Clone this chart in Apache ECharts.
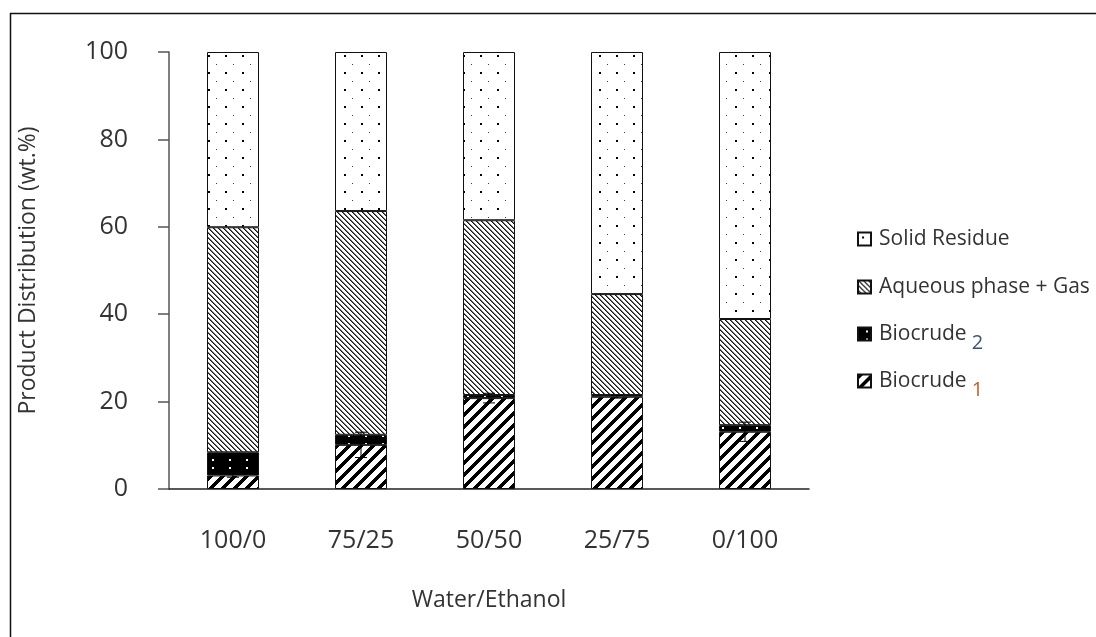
<!DOCTYPE html>
<html>
<head>
<meta charset="utf-8">
<script src="https://cdn.jsdelivr.net/npm/echarts@6/dist/echarts.min.js"></script>
<style>
html,body{margin:0;padding:0;background:#fff;}
#chart{width:1096px;height:637px;}
</style>
</head>
<body>
<div id="chart"></div>
<script>
// ---- data ----
const categories = ['100/0', '75/25', '50/50', '25/75', '0/100'];
const biocrude1 = [3.1, 10.1, 20.8, 21.1, 13.1];
const biocrude2 = [5.3, 2.3, 0.7, 0.4, 1.5];
const aqueousGas = [51.5, 51.2, 40.0, 23.1, 24.3];
const solidResidue = [40.1, 36.4, 38.5, 55.4, 61.1];
const biocrude1Err = [0.4, 2.9, 1.1, 0.3, 2.2];
const yTicks = [0, 20, 40, 60, 80, 100];
const legendNames = ['Solid Residue', 'Aqueous phase + Gas', 'Biocrude2', 'Biocrude1'];

// ---- patterns ----
function makePattern(w, h, fn) {
  const c = document.createElement('canvas');
  c.width = w; c.height = h;
  const ctx = c.getContext('2d');
  const img = ctx.createImageData(w, h);
  for (let y = 0; y < h; y++) {
    for (let x = 0; x < w; x++) {
      const v = fn(x, y);
      const i = (y * w + x) * 4;
      img.data[i] = v; img.data[i + 1] = v; img.data[i + 2] = v; img.data[i + 3] = 255;
    }
  }
  ctx.putImageData(img, 0, 0);
  return { image: c, repeat: 'repeat' };
}
const patSolid = makePattern(17, 17, (x, y) => {
  if ((x === 4 || x === 5) && (y === 4 || y === 5)) return 0;
  if (x === 12 && y === 13) return 60;
  return 255;
});
const patAqueous = makePattern(5, 5, (x, y) => {
  const d = ((x - y) % 5 + 5) % 5;
  return d < 2 ? (d === 0 ? 20 : 110) : 255;
});
const patBio2 = makePattern(17, 8, (x, y) => {
  if ((x === 8 || x === 9) && (y === 3 || y === 4)) return 255;
  return 0;
});
const patBio1 = makePattern(12, 12, (x, y) => {
  const d = (x + y) % 12;
  return d < 5 ? 0 : 255;
});

const barBase = {
  type: 'bar', stack: 'total', barWidth: 52,
  emphasis: { disabled: true }
};
const border = { borderColor: '#111', borderWidth: 1 };

const chart = echarts.init(document.getElementById('chart'), null, { renderer: 'canvas' });
const font = "'Open Sans', 'Noto Sans', sans-serif";
const txt = '#333';

const legendRich = {
  b: { fontFamily: font, fontSize: 21, color: txt, padding: [0, 0, 0, 3] },
  s2: { fontFamily: font, fontSize: 20, color: '#3b5573', lineHeight: 22, verticalAlign: 'top', padding: [11, 0, 0, 0] },
  s1: { fontFamily: font, fontSize: 20, color: '#c0612b', lineHeight: 22, verticalAlign: 'top', padding: [11, 0, 0, 0] }
};
const legendTops = [227, 275, 322, 369];
const legends = legendNames.map((n, i) => ({
  orient: 'vertical', left: 857, top: legendTops[i], padding: 0,
  itemWidth: 13, itemHeight: 13, icon: 'rect',
  data: [n],
  formatter: function (name) {
    if (name === 'Biocrude2') return '{b|Biocrude}{s2| 2}';
    if (name === 'Biocrude1') return '{b|Biocrude}{s1| 1}';
    return '{b|' + name + '}';
  },
  textStyle: { fontFamily: font, fontSize: 21, color: txt, lineHeight: 24, rich: legendRich }
}));

chart.setOption({
  animation: false,
  backgroundColor: '#fff',
  textStyle: { fontFamily: font },
  graphic: [{
    type: 'rect', left: 8, top: 11,
    shape: { width: 1200, height: 700 },
    style: { fill: 'none', stroke: '#111', lineWidth: 1.5 },
    silent: true
  }],
  grid: { left: 169, top: 52, width: 640, height: 437 },
  legend: legends,
  xAxis: {
    type: 'category', data: categories,
    name: 'Water/Ethanol', nameLocation: 'middle', nameGap: 100,
    nameTextStyle: { fontFamily: font, fontSize: 23, color: txt },
    axisLine: { lineStyle: { color: '#222', width: 1.5 } },
    axisTick: { show: false },
    axisLabel: { fontFamily: font, fontSize: 25, color: txt, margin: 39 }
  },
  yAxis: {
    type: 'value', min: 0, max: 100, interval: 20,
    name: 'Product Distribution (wt.%)', nameLocation: 'middle', nameGap: 129,
    nameTextStyle: { fontFamily: font, fontSize: 23, color: txt },
    axisLine: { show: true, lineStyle: { color: '#555', width: 1.5 } },
    axisTick: { show: true, inside: false, length: 11, lineStyle: { color: '#555', width: 1.5 } },
    splitLine: { show: false },
    axisLabel: {
      fontFamily: font, fontSize: 25, color: txt, margin: 41,
      formatter: function (v) { return yTicks.indexOf(v) >= 0 ? String(v) : ''; }
    }
  },
  series: [
    Object.assign({}, barBase, { name: 'Biocrude1', data: biocrude1, itemStyle: Object.assign({ color: patBio1 }, border) }),
    Object.assign({}, barBase, { name: 'Biocrude2', data: biocrude2, itemStyle: Object.assign({ color: patBio2 }, border) }),
    Object.assign({}, barBase, { name: 'Aqueous phase + Gas', data: aqueousGas, itemStyle: Object.assign({ color: patAqueous }, border) }),
    Object.assign({}, barBase, { name: 'Solid Residue', data: solidResidue, itemStyle: Object.assign({ color: patSolid }, border) }),
    {
      type: 'custom', name: 'err', silent: true, z: 10,
      data: categories.map((c, i) => [i, biocrude1[i] - biocrude1Err[i], biocrude1[i] + biocrude1Err[i]]),
      renderItem: function (params, api) {
        const lo = api.coord([api.value(0), api.value(1)]);
        const hi = api.coord([api.value(0), api.value(2)]);
        const hw = 6;
        const st = { stroke: '#000', lineWidth: 1 };
        return {
          type: 'group', children: [
            { type: 'line', shape: { x1: hi[0], y1: hi[1], x2: lo[0], y2: lo[1] }, style: st },
            { type: 'line', shape: { x1: hi[0] - hw, y1: hi[1], x2: hi[0] + hw, y2: hi[1] }, style: st },
            { type: 'line', shape: { x1: lo[0] - hw, y1: lo[1], x2: lo[0] + hw, y2: lo[1] }, style: st }
          ]
        };
      }
    }
  ]
});
</script>
</body>
</html>
